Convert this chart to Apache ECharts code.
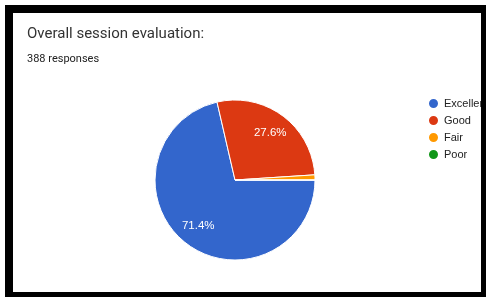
<!DOCTYPE html>
<html>
<head>
<meta charset="utf-8">
<script src="https://cdn.jsdelivr.net/npm/echarts@6/dist/echarts.min.js"></script>
<style>
  html, body { margin: 0; padding: 0; background: #fff; }
  #chart { width: 486px; height: 298px; }
</style>
</head>
<body>
<div id="chart"></div>
<script>
// answers and counts (388 responses in total)
var categories = ['Excellent', 'Good', 'Fair', 'Poor'];
var counts = [277, 107, 4, 0];
var colors = ['#3366cc', '#dc3912', '#ff9900', '#109618'];

var pieData = categories.map(function (name, i) {
  return { name: name, value: counts[i] };
});

var chart = echarts.init(document.getElementById('chart'));

// black frame around the screenshot
function frame(x, y, w, h) {
  return { type: 'rect', z: 100, shape: { x: x, y: y, width: w, height: h }, style: { fill: '#000' } };
}

var option = {
  animation: false,
  color: colors,
  title: [
    {
      text: 'Overall session evaluation:',
      left: 27, top: 27, padding: 0,
      textStyle: { fontFamily: 'Roboto', fontSize: 15, fontWeight: 'normal', color: '#333' }
    },
    {
      text: '388 responses',
      left: 27, top: 54, padding: 0,
      textStyle: { fontFamily: 'Roboto', fontSize: 11, fontWeight: 'normal', color: '#222' }
    }
  ],
  legend: {
    orient: 'vertical',
    left: 427, top: 97, padding: 0,
    icon: 'circle',
    itemWidth: 11, itemHeight: 11,
    itemGap: 4,
    data: categories,
    textStyle: { fontFamily: 'Arial', fontSize: 11, color: '#222' }
  },
  graphic: [
    frame(5, 5, 481, 8),
    frame(5, 5, 8, 292),
    frame(481, 5, 5, 292),
    frame(5, 292, 481, 5)
  ],
  series: [
    {
      name: 'evaluation',
      type: 'pie',
      center: [235, 180],
      radius: 80,
      startAngle: 0,
      clockwise: true,
      label: { show: false },
      labelLine: { show: false },
      itemStyle: { borderColor: '#fff', borderWidth: 1 },
      emphasis: { disabled: true },
      data: pieData
    },
    {
      // invisible ring used only to place percentage labels
      name: 'labels',
      type: 'pie',
      center: [235, 180],
      radius: [32, 80],
      startAngle: 0,
      clockwise: true,
      silent: true,
      legendHoverLink: false,
      itemStyle: { color: 'transparent' },
      emphasis: { disabled: true },
      label: {
        show: true,
        position: 'inside',
        fontFamily: 'Arial',
        fontSize: 11.5,
        color: '#fff',
        formatter: function (p) {
          return p.percent >= 5 ? p.percent.toFixed(1) + '%' : '';
        }
      },
      labelLine: { show: false },
      data: pieData
    }
  ]
};

chart.setOption(option);
</script>
</body>
</html>
